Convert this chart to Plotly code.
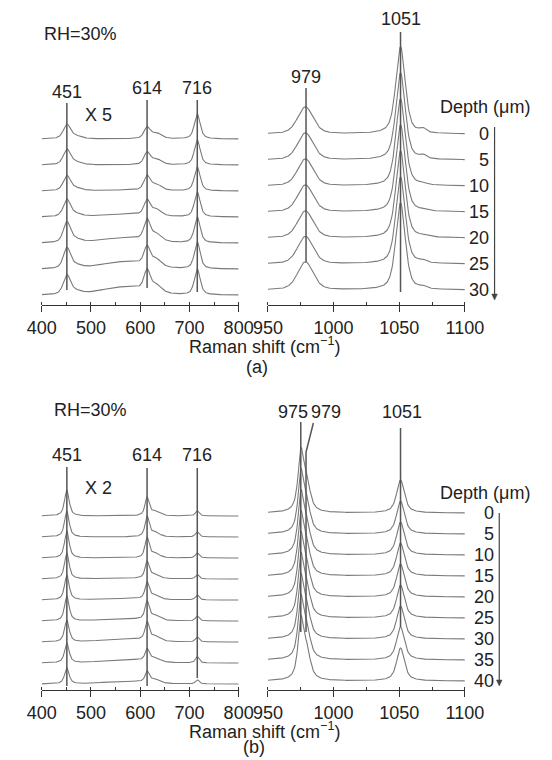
import numpy as np
import plotly.graph_objects as go

# page body has an 8px default margin; the figure fills the rest of the 552x760 window
OFF = 8
W, H = 552 - OFF, 760 - OFF

# ---------------- data (heights in units of one stacking offset) ----------------
depth_a = [0, 5, 10, 15, 20, 25, 30]
depth_b = [0, 5, 10, 15, 20, 25, 30, 35, 40]

# Panel (a), 400-800 cm-1 region (x5)
a_451 = [0.54, 0.58, 0.56, 0.65, 0.77, 0.77, 0.73]
a_465_tail = [0.10, 0.10, 0.10, 0.10, 0.12, 0.12, 0.12]
a_614 = [0.42, 0.46, 0.54, 0.57, 0.77, 0.69, 0.77]
a_632_shoulder = [0.22, 0.22, 0.24, 0.24, 0.26, 0.26, 0.26]
a_716 = [0.96, 0.96, 0.92, 0.96, 1.00, 1.04, 1.00]
a_hump = [0.0, 0.0, 0.03, 0.10, 0.19, 0.27, 0.30]

# Panel (a), 950-1100 cm-1 region
a_979 = [1.04, 1.04, 1.04, 1.04, 1.04, 1.06, 1.08]
a_1051 = [3.35, 3.35, 3.35, 3.35, 3.35, 3.35, 3.35]
a_1068 = [0.15, 0.13, 0.05, 0.03, 0.04, 0.08, 0.08]

# Panel (b), 400-800 cm-1 region (x2)
b_451 = [1.24, 1.24, 1.29, 1.24, 1.19, 1.19, 1.05, 0.95, 0.76]
b_614 = [0.85, 0.95, 0.95, 0.78, 0.78, 0.85, 0.85, 0.55, 0.50]
b_630_shoulder = [0.20, 0.20, 0.20, 0.20, 0.20, 0.20, 0.20, 0.18, 0.18]
b_716 = [0.24, 0.24, 0.24, 0.22, 0.24, 0.24, 0.24, 0.30, 0.20]
b_hump = [0.0, 0.0, 0.0, 0.03, 0.06, 0.10, 0.14, 0.16, 0.12]

# Panel (b), 950-1100 cm-1 region
b_975 = [2.70, 2.70, 2.70, 2.70, 2.70, 2.70, 2.70, 2.70, 2.70]
b_979 = [1.30, 1.30, 1.30, 1.30, 1.30, 1.30, 1.30, 1.30, 1.30]
b_1051 = [1.57, 1.57, 1.57, 1.57, 1.57, 1.57, 1.57, 1.57, 1.57]

labels_a_low = [451, 614, 716]
labels_a_high = [979, 1051]
labels_b_low = [451, 614, 716]
labels_b_high = [975, 979, 1051]

x_low_ticks = [400, 500, 600, 700, 800]
x_high_ticks = [950, 1000, 1050, 1100]

# ---------------- styling / layout constants ----------------
FONT = "Liberation Sans, Arial, sans-serif"
FS = 18
TXT = "#222222"
SPEC_COL = "#7a7a7a"
MARK_COL = "#555555"

def px_x(p):
    return (p - OFF) / W

def px_y(p):
    return 1 - (p - OFF) / H

# pixel geometry (window pixels)
XL = (28, 238)       # left axis span
XR = (269.3, 479.3)  # right axis span
A_AX, A_TOP = 305, 8
B_AX, B_TOP = 690, 380
UA, UB = 26.0, 21.0  # pixels per stacking offset


def pv(x, c, fwhm, eta):
    hw = fwhm / 2.0
    lor = 1.0 / (1.0 + ((x - c) / hw) ** 2)
    gau = np.exp(-np.log(2) * ((x - c) / hw) ** 2)
    return eta * lor + (1 - eta) * gau


x_low = np.arange(400, 800.5, 1.0)
x_high = np.arange(950, 1100.25, 0.5)

fig = go.Figure()


def add_spectra(xs, peaks, n, xa, ya):
    for i in range(n):
        base = n - 1 - i
        y = np.full_like(xs, float(base))
        for (c, fw, eta, hs) in peaks:
            y = y + hs[i] * pv(xs, c, fw, eta)
        fig.add_trace(go.Scatter(x=xs, y=y, mode="lines", xaxis=xa, yaxis=ya,
                                 line=dict(color=SPEC_COL, width=1.1),
                                 showlegend=False, hoverinfo="skip"))


add_spectra(x_low, [(451, 17, 0.55, a_451), (468, 30, 0.5, a_465_tail),
                    (614, 15, 0.55, a_614), (633, 24, 0.5, a_632_shoulder),
                    (716, 14, 0.6, a_716), (568, 110, 0.0, a_hump)],
            len(depth_a), "x", "y")
add_spectra(x_high, [(978.5, 14, 0.4, a_979), (1051, 8.5, 0.55, a_1051),
                     (1068, 6, 0.5, a_1068)],
            len(depth_a), "x2", "y2")
add_spectra(x_low, [(451, 11, 0.75, b_451), (614, 10, 0.75, b_614),
                    (630, 22, 0.5, b_630_shoulder), (716, 9, 0.75, b_716),
                    (570, 110, 0.0, b_hump)],
            len(depth_b), "x3", "y3")
add_spectra(x_high, [(975, 5, 0.8, b_975), (979.5, 6.5, 0.8, b_979),
                     (1051, 7, 0.75, b_1051)],
            len(depth_b), "x4", "y4")

axis_common = dict(showline=True, linecolor="#333333", linewidth=1.2,
                   ticks="outside", ticklen=6, tickwidth=1.2, tickcolor="#333333",
                   showgrid=False, zeroline=False,
                   tickfont=dict(family=FONT, size=FS, color=TXT),
                   fixedrange=True)

def xaxis(span, rng, tv, mdt, anchor):
    d = dict(axis_common)
    d.update(domain=[px_x(span[0]), px_x(span[1])], range=rng, tickvals=tv,
             anchor=anchor,
             minor=dict(dtick=mdt, tick0=rng[0], ticks="inside", ticklen=3,
                        tickwidth=1.2, tickcolor="#333333", showgrid=False))
    return d

def yaxis(ax_px, top_px, bottom_off, unit):
    rng = [-bottom_off, -bottom_off + (ax_px - top_px) / unit]
    return dict(domain=[px_y(ax_px), px_y(top_px)], range=rng, visible=False,
                fixedrange=True)

fig.update_layout(
    width=W, height=H, margin=dict(l=0, r=0, t=0, b=0),
    paper_bgcolor="white", plot_bgcolor="rgba(0,0,0,0)",
    xaxis=xaxis(XL, [400, 800], x_low_ticks, 50, "y"),
    xaxis2=xaxis(XR, [950, 1100], x_high_ticks, 25, "y2"),
    xaxis3=xaxis(XL, [400, 800], x_low_ticks, 50, "y3"),
    xaxis4=xaxis(XR, [950, 1100], x_high_ticks, 25, "y4"),
    yaxis=yaxis(A_AX, A_TOP, 10 / UA, UA),
    yaxis2=yaxis(A_AX, A_TOP, 15 / UA, UA),
    yaxis3=yaxis(B_AX, B_TOP, 6 / UB, UB),
    yaxis4=yaxis(B_AX, B_TOP, 9 / UB, UB),
)

shapes = []
ann = []

def vline(xref, xv, top, bot):
    shapes.append(dict(type="line", xref=xref, yref="paper", x0=xv, x1=xv,
                       y0=px_y(top), y1=px_y(bot),
                       line=dict(color=MARK_COL, width=1.5)))

def text(s, x, y, xref="paper", xanchor="center", size=FS, yref="paper"):
    ann.append(dict(text=s, x=x, y=y, xref=xref, yref=yref, showarrow=False,
                    xanchor=xanchor, yanchor="middle",
                    font=dict(family=FONT, size=size, color=TXT)))

# marker lines
for v, top, bot in zip(labels_a_low, [103, 100, 100], [290, 288, 292]):
    vline("x", v, top, bot)
for v, top, bot in zip(labels_a_high, [88, 32], [262, 292]):
    vline("x2", v, top, bot)
for v, top, bot in zip(labels_b_low, [467, 468, 468], [686, 686, 678]):
    vline("x3", v, top, bot)
vline("x4", labels_b_high[0], 422, 632)
vline("x4", labels_b_high[2], 428, 627)
shapes.append(dict(type="path", xref="x4", yref="paper",
                   path=f"M 984.6,{px_y(423)} L {labels_b_high[1]},{px_y(452)} L {labels_b_high[1]},{px_y(632)}",
                   line=dict(color=MARK_COL, width=1.5)))

# peak labels
for v, y in zip(labels_a_low, [92, 88, 88]):
    text(str(v), v, px_y(y), xref="x")
for v, y in zip(labels_a_high, [77, 19]):
    text(str(v), v, px_y(y), xref="x2")
for v in labels_b_low:
    text(str(v), v, px_y(455), xref="x3")
text(str(labels_b_high[0]), px_x(296), px_y(412))
text(str(labels_b_high[1]), px_x(331), px_y(412))
text(str(labels_b_high[2]), labels_b_high[2] + 1, px_y(412), xref="x4")

text("RH=30%", px_x(69), px_y(34))
text("RH=30%", px_x(80), px_y(410))
text("X 5", px_x(88), px_y(115))
text("X 2", px_x(89), px_y(488))

# depth labels
text("Depth (\u03bcm)", px_x(501), px_y(107))
text("Depth (\u03bcm)", px_x(501), px_y(493))
for i, d in enumerate(depth_a):
    text(str(d), px_x(507), len(depth_a) - 1 - i, xanchor="right", yref="y2")
for i, d in enumerate(depth_b):
    text(str(d), px_x(512), len(depth_b) - 1 - i, xanchor="right", yref="y4")

# depth arrows (line + small filled head)
for xp, y0, y1 in [(511, 127, 300), (516, 513, 686)]:
    shapes.append(dict(type="line", xref="paper", yref="paper",
                       x0=px_x(xp), x1=px_x(xp), y0=px_y(y0), y1=px_y(y1 - 5),
                       line=dict(color="#444444", width=1.2)))
    shapes.append(dict(type="path", xref="paper", yref="paper",
                       path=(f"M {px_x(xp - 3)},{px_y(y1 - 6)} L {px_x(xp + 3)},{px_y(y1 - 6)} "
                             f"L {px_x(xp)},{px_y(y1)} Z"),
                       fillcolor="#444444", line=dict(color="#444444", width=0.5)))

# axis titles and panel labels
text("Raman shift (cm<sup>\u22121</sup>)", px_x(266), px_y(345))
text("Raman shift (cm<sup>\u22121</sup>)", px_x(266), px_y(730))
text("(a)", px_x(258), px_y(367))
text("(b)", px_x(254), px_y(747))

fig.update_layout(shapes=shapes, annotations=ann)
fig.write_html("out.html")
